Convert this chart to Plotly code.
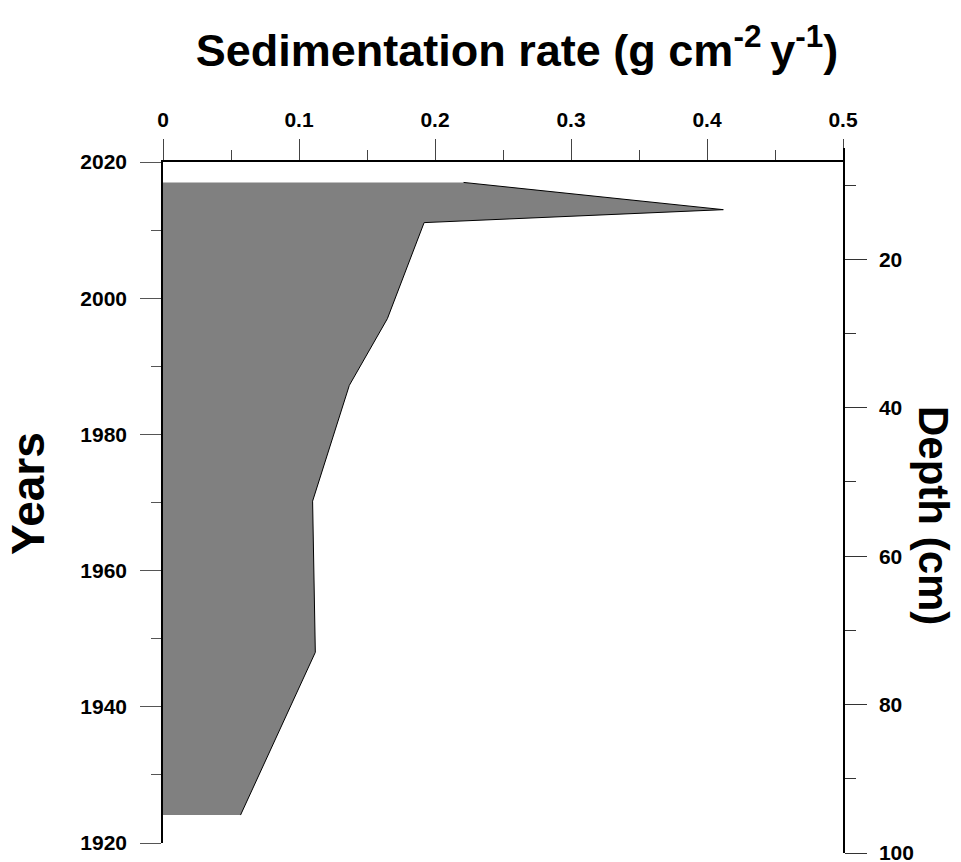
import plotly.graph_objects as go

# Data
rate = [0.221, 0.412, 0.192, 0.165, 0.137, 0.110, 0.112, 0.057]
years = [2017.0, 2013.0, 2011.1, 1997.0, 1987.2, 1970.2, 1948.0, 1924.1]

x_ticks = [0, 0.1, 0.2, 0.3, 0.4, 0.5]
x_labels = ["0", "0.1", "0.2", "0.3", "0.4", "0.5"]
year_ticks = [1920, 1940, 1960, 1980, 2000, 2020]
depth_ticks = [20, 40, 60, 80, 100]

FONT = "Liberation Sans, Arial, sans-serif"
W, H = 961, 862
L, R, T, B = 163, 118, 148, 9
ph = H - T - B

def py(pix):
    return (H - B - pix) / ph

fig = go.Figure()
fig.add_trace(go.Scatter(
    x=rate, y=years, mode="lines", fill="tozerox",
    fillcolor="#808080", line=dict(color="black", width=1),
    xaxis="x", yaxis="y", hoverinfo="skip", showlegend=False))
fig.add_trace(go.Scatter(x=[None], y=[None], xaxis="x", yaxis="y2",
                         showlegend=False, hoverinfo="skip"))

tickfont = dict(family=FONT, size=21, color="black", weight="bold")

fig.update_layout(
    width=W, height=H,
    margin=dict(l=L, r=R, t=T, b=B, pad=0, autoexpand=False),
    paper_bgcolor="white", plot_bgcolor="rgba(0,0,0,0)",
    showlegend=False,
    xaxis=dict(
        side="top", anchor="y", range=[0, 0.5], domain=[0, 1], automargin=False,
        tickvals=x_ticks, ticktext=x_labels, ticklabeloverflow="allow",
        ticks="outside", ticklen=21, tickwidth=1, tickcolor="#444",
        showline=True, linecolor="black", linewidth=1.5,
        showgrid=False, zeroline=False, tickfont=tickfont, ticklabelstandoff=4,
        minor=dict(ticks="outside", ticklen=10, tickcolor="#444", dtick=0.05, tick0=0, showgrid=False),
    ),
    yaxis=dict(
        side="left", anchor="x", range=[1920, 2020], domain=[py(843), py(162)], automargin=False,
        tickvals=year_ticks, ticks="outside", ticklen=21, tickwidth=1, tickcolor="#555",
        showline=True, linecolor="black", linewidth=1.5, ticklabeloverflow="allow",
        showgrid=False, zeroline=False, tickfont=tickfont, ticklabelstandoff=9,
        minor=dict(ticks="outside", ticklen=10, tickcolor="#555", dtick=10, tick0=1920, showgrid=False),
    ),
    yaxis2=dict(
        side="right", anchor="x", range=[100, 5], domain=[0, 1], automargin=False,
        tickvals=depth_ticks, ticks="outside", ticklen=22, tickwidth=1, tickcolor="#333",
        showline=True, linecolor="black", linewidth=1.5, ticklabeloverflow="allow",
        showgrid=False, zeroline=False, tickfont=tickfont, ticklabelstandoff=8,
        minor=dict(ticks="outside", ticklen=11, tickcolor="#333", dtick=10, tick0=0, showgrid=False),
    ),
    title=dict(
        text="Sedimentation rate (g cm<sup>-2 </sup>y<sup>-1</sup>)",
        x=517 / W, y=1 - 50 / H, xref="container", yref="container",
        xanchor="center", yanchor="middle", automargin=False,
        font=dict(family=FONT, size=45, color="black", weight="bold"),
    ),
    annotations=[
        dict(text="Years", xref="paper", yref="paper",
             x=(28 - L) / (W - L - R), y=py(494), textangle=-90,
             showarrow=False, xanchor="center", yanchor="middle",
             font=dict(family=FONT, size=46, color="black", weight="bold")),
        dict(text="Depth (cm)", xref="paper", yref="paper",
             x=(934 - L) / (W - L - R), y=py(515), textangle=90,
             showarrow=False, xanchor="center", yanchor="middle",
             font=dict(family=FONT, size=42, color="black", weight="bold")),
    ],
)

fig.write_html("out.html")
